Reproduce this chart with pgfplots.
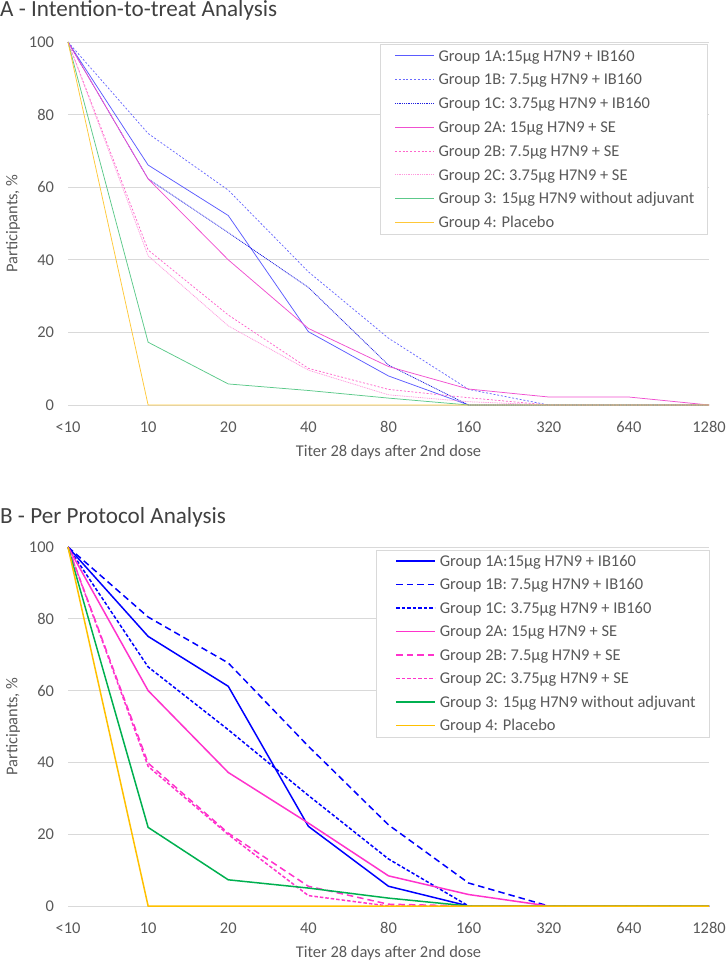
\documentclass[border=0pt]{standalone}
\usepackage{fontspec}
\setmainfont{Carlito}
\usepackage{pgfplots}
\pgfplotsset{compat=1.18}
\usepackage{pgfplotstable}

\definecolor{txtgray}{HTML}{595959}
\definecolor{titlegray}{HTML}{404040}
\definecolor{gridgray}{HTML}{D9D9D9}
% panel A (thin, lighter)
\definecolor{aOneA}{HTML}{5B5BFF}
\definecolor{aOneB}{HTML}{6A6AFF}
\definecolor{aOneC}{HTML}{2020E0}
\definecolor{aTwoA}{HTML}{F050D0}
\definecolor{aTwoB}{HTML}{FF66CC}
\definecolor{aTwoC}{HTML}{FF99DD}
\definecolor{aThree}{HTML}{5CC98A}
\definecolor{aFour}{HTML}{FFC838}
% panel B
\definecolor{bBlue}{HTML}{0000FF}
\definecolor{bPink}{HTML}{FF33CC}
\definecolor{bGreen}{HTML}{00B050}
\definecolor{bYellow}{HTML}{FFC000}

\newcommand{\lf}{\fontsize{16.5}{20}\selectfont}

% x: 0=<10, 1=10, 2=20, 3=40, 4=80, 5=160, 6=320, 7=640, 8=1280
\pgfplotstableread{
x  a1   b1   c1   a2   b2   c2   g3   g4
0  100  100  100  100  100  100  100  100
1  66.1 74.8 62.3 62.3 42.7 41.1 17.3 0
2  52.2 59.2 47.5 40.0 24.8 21.8 5.8  0
3  20.2 36.7 32.4 21.1 10.1 9.6  4.0  0
4  8.0  18.4 11.0 10.6 4.3  2.8  1.9  0
5  0    4.3  0    4.4  2.0  0.9  0    0
6  0    0    0    2.2  0    0    0    0
7  0    0    0    2.2  0    0    0    0
8  0    0    0    0    0    0    0    0
}\itt

\pgfplotstableread{
x  a1   b1   c1   a2   b2   c2   g3   g4
0  100  100  100  100  100  100  100  100
1  75.1 80.5 66.6 60.0 39.8 38.9 21.9 0
2  61.2 67.7 49.1 37.2 20.3 19.9 7.3  0
3  22.2 44.5 30.8 23.1 5.5  2.9  5.0  0
4  5.5  22.6 13.1 8.4  0.5  0    2.2  0
5  0    6.4  0    3.2  0    0    0    0
6  0    0    0    0    0    0    0    0
7  0    0    0    0    0    0    0    0
8  0    0    0    0    0    0    0    0
}\pp

\pgfplotsset{
  titer/.style={
    scale only axis, width=641bp, clip=false,
    xmin=0, xmax=8, ymin=0, ymax=100,
    xtick={0,...,8}, xticklabels={<10,10,20,40,80,160,320,640,1280},
    ytick={0,20,...,100},
    axis line style={draw=none}, major tick length=0pt,
    ymajorgrids, grid style={draw=gridgray, line width=0.8bp},
    tick label style={font=\lf, text=txtgray},
    /pgf/number format/assume math mode=true,
    yticklabel style={xshift=-10.5bp},
    xticklabel style={anchor=base, yshift=-27.3bp},
    xlabel={Titer 28 days after 2nd dose},
    ylabel={Participants, \%},
    label style={font=\lf, text=txtgray},
    xlabel style={at={(axis description cs:0.5,0)}, anchor=base, yshift=-51bp},
    ylabel style={at={(axis description cs:-0.079,0.5)}, anchor=base, inner sep=0pt},
  },
  sA/.style={draw=#1, color=#1, line width=0.75bp},
  sB/.style={draw=#1, color=#1, line width=1.5bp},
}
\tikzset{
  sA/.style={draw=#1, line width=0.75bp},
  sB/.style={draw=#1, line width=1.5bp},
}

% legend row: x of sample start, y of row centre (from top), line style, text
\newcommand{\legrow}[4]{%
  \draw[#3] (#1bp,-#2bp) -- ++(38.5bp,0bp);
  \node[anchor=base west, inner sep=0pt, font=\lf, text=txtgray,
        xshift=43.3bp, yshift=-5.3bp] at (#1bp,-#2bp) {#4};}

\begin{document}
\begin{tikzpicture}
\useasboundingbox (0,0) rectangle (726bp,-960bp);

\node[anchor=base west, inner sep=0pt, font=\fontsize{23.2}{28}\selectfont, text=titlegray]
  at (0bp,-16.7bp) {A - Intention-to-treat Analysis};
\node[anchor=base west, inner sep=0pt, font=\fontsize{23.2}{28}\selectfont, text=titlegray]
  at (0bp,-523.3bp) {B - Per Protocol Analysis};

\begin{axis}[titer, height=363bp, at={(68bp,-405bp)}, anchor=south west]
\addplot[sA=aOneA] table[x=x,y=a1]{\itt};
\addplot[sA=aOneB, dash pattern=on 2bp off 1.8bp] table[x=x,y=b1]{\itt};
\addplot[sA=aOneC, dash pattern=on 1bp off 0.8bp] table[x=x,y=c1]{\itt};
\addplot[sA=aTwoA] table[x=x,y=a2]{\itt};
\addplot[sA=aTwoB, dash pattern=on 2bp off 1.8bp] table[x=x,y=b2]{\itt};
\addplot[sA=aTwoC, dash pattern=on 1bp off 0.8bp] table[x=x,y=c2]{\itt};
\addplot[sA=aThree] table[x=x,y=g3]{\itt};
\addplot[sA=aFour] table[x=x,y=g4]{\itt};
\end{axis}

\begin{axis}[titer, height=359bp, at={(68bp,-906bp)}, anchor=south west]
\addplot[sB=bBlue] table[x=x,y=a1]{\pp};
\addplot[sB=bBlue, dash pattern=on 6.5bp off 4bp] table[x=x,y=b1]{\pp};
\addplot[sB=bBlue, dash pattern=on 3.5bp off 2bp] table[x=x,y=c1]{\pp};
\addplot[sB=bPink] table[x=x,y=a2]{\pp};
\addplot[sB=bPink, dash pattern=on 6.5bp off 4bp] table[x=x,y=b2]{\pp};
\addplot[sB=bPink, dash pattern=on 3.5bp off 2bp] table[x=x,y=c2]{\pp};
\addplot[sB=bGreen] table[x=x,y=g3]{\pp};
\addplot[sB=bYellow] table[x=x,y=g4]{\pp};
\end{axis}

% legend A
\draw[gridgray, fill=white, line width=0.75bp] (380bp,-44.5bp) rectangle (707bp,-234bp);
\legrow{395}{55.7}{sA=aOneA}{Group 1A:15µg H7N9 + IB160}
\legrow{395}{79.5}{sA=aOneB, dash pattern=on 2bp off 1.8bp}{Group 1B: 7.5µg H7N9 + IB160}
\legrow{395}{103.3}{sA=aOneC, dash pattern=on 1bp off 0.8bp}{Group 1C: 3.75µg H7N9 + IB160}
\legrow{395}{127.1}{sA=aTwoA}{Group 2A: 15µg H7N9 + SE}
\legrow{395}{150.9}{sA=aTwoB, dash pattern=on 2bp off 1.8bp}{Group 2B: 7.5µg H7N9 + SE}
\legrow{395}{174.7}{sA=aTwoC, dash pattern=on 1bp off 0.8bp}{Group 2C: 3.75µg H7N9 + SE}
\legrow{395}{198.5}{sA=aThree}{Group 3: 15µg H7N9 without adjuvant}
\legrow{395}{222.3}{sA=aFour}{Group 4: Placebo}

% legend B
\draw[gridgray, fill=white, line width=0.75bp] (376.5bp,-550bp) rectangle (709.5bp,-737.3bp);
\legrow{396.3}{561}{sB=bBlue}{Group 1A:15µg H7N9 + IB160}
\legrow{396.3}{584.5}{sB=bBlue, dash pattern=on 6.5bp off 4bp}{Group 1B: 7.5µg H7N9 + IB160}
\legrow{396.3}{608}{sB=bBlue, dash pattern=on 3.5bp off 2bp}{Group 1C: 3.75µg H7N9 + IB160}
\legrow{396.3}{631.5}{sB=bPink}{Group 2A: 15µg H7N9 + SE}
\legrow{396.3}{655}{sB=bPink, dash pattern=on 6.5bp off 4bp}{Group 2B: 7.5µg H7N9 + SE}
\legrow{396.3}{678.5}{sB=bPink, dash pattern=on 3.5bp off 2bp}{Group 2C: 3.75µg H7N9 + SE}
\legrow{396.3}{702}{sB=bGreen}{Group 3: 15µg H7N9 without adjuvant}
\legrow{396.3}{725.5}{sB=bYellow}{Group 4: Placebo}
\end{tikzpicture}
\end{document}
